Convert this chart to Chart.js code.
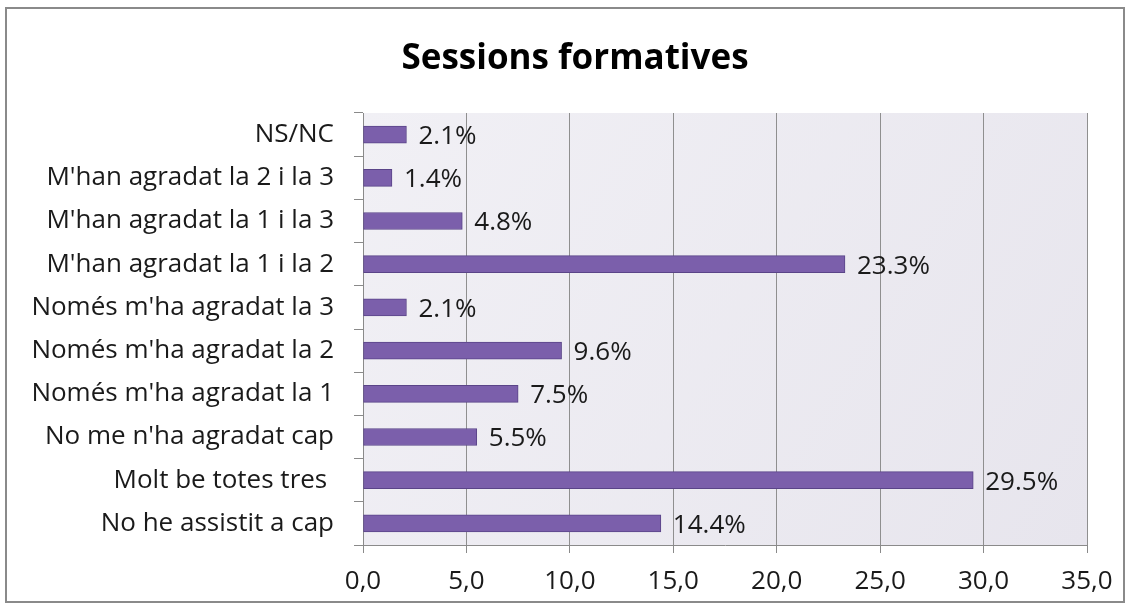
<!DOCTYPE html>
<html>
<head>
<meta charset="utf-8">
<script src="https://cdn.jsdelivr.net/npm/chart.js@4"></script>
<style>
html,body{margin:0;padding:0;background:#fff;}
#wrap{position:absolute;left:0;top:0;width:1132px;height:612px;}
#frame{position:absolute;left:5px;top:7px;width:1120px;height:596px;border:2px solid #8a8a8a;box-sizing:border-box;pointer-events:none;}
canvas{position:absolute;left:0;top:0;}
</style>
</head>
<body>
<div id="wrap">
<canvas id="c" width="1132" height="612"></canvas>
<div id="frame"></div>
</div>
<script>
const chartTitle = "Sessions formatives";
const categories = [
  "NS/NC",
  "M'han agradat la 2 i la 3",
  "M'han agradat la 1 i la 3",
  "M'han agradat la 1 i la 2",
  "Només m'ha agradat la 3",
  "Només m'ha agradat la 2",
  "Només m'ha agradat la 1",
  "No me n'ha agradat cap",
  "Molt be totes tres ",
  "No he assistit a cap"
];
const percentages = [2.1, 1.4, 4.8, 23.3, 2.1, 9.6, 7.5, 5.5, 29.5, 14.4];
const xTickValues = [0, 5, 10, 15, 20, 25, 30, 35];

const FONT = "'Open Sans', 'Noto Sans', sans-serif";

const plotBg = {
  id: 'plotBg',
  beforeDraw(chart) {
    const {ctx, chartArea: a} = chart;
    const g = ctx.createLinearGradient(a.left, a.top, a.right, a.bottom);
    g.addColorStop(0, '#f1f0f5');
    g.addColorStop(1, '#e7e5ed');
    ctx.save();
    ctx.fillStyle = g;
    ctx.fillRect(a.left, a.top, a.right - a.left, a.bottom - a.top);
    ctx.restore();
  }
};

const valueLabels = {
  id: 'valueLabels',
  afterDatasetsDraw(chart) {
    const {ctx} = chart;
    const meta = chart.getDatasetMeta(0);
    ctx.save();
    ctx.font = "26px " + FONT;
    ctx.fillStyle = '#1a1a1a';
    ctx.textAlign = 'left';
    ctx.textBaseline = 'middle';
    meta.data.forEach((bar, i) => {
      ctx.fillText(percentages[i].toFixed(1) + '%', bar.x + 12, bar.y + 2);
    });
    ctx.restore();
  }
};

new Chart(document.getElementById('c'), {
  type: 'bar',
  data: {
    labels: categories,
    datasets: [{
      data: percentages,
      yAxisID: 'y',
      backgroundColor: '#7b5fab',
      borderColor: '#5a4488',
      borderWidth: 1,
      borderSkipped: false,
      barThickness: 17
    }]
  },
  options: {
    indexAxis: 'y',
    responsive: false,
    animation: false,
    devicePixelRatio: 1,
    layout: { padding: { left: 18, right: 0, top: 10, bottom: 0 } },
    plugins: {
      legend: { display: false },
      tooltip: { enabled: false },
      title: {
        display: true,
        text: chartTitle,
        color: '#000',
        font: { family: FONT, size: 35, weight: 'bold' },
        padding: { top: 28, bottom: 33 }
      }
    },
    scales: {
      x: {
        min: 0, max: 35,
        afterBuildTicks(s) { s.ticks = xTickValues.map(v => ({value: v})); },
        afterFit(s) { s.height = 67; },
        border: { display: true, color: '#8a8a8a', width: 1 },
        grid: { display: true, color: '#8f8f8f', lineWidth: 1, drawTicks: true, tickLength: 8, tickColor: '#8a8a8a' },
        ticks: {
          color: '#1a1a1a',
          padding: 13,
          font: { family: FONT, size: 26 },
          callback: v => Number(v).toFixed(1).replace('.', ',')
        }
      },
      y: {
        position: 'left',
        afterFit(s) { s.width = 345; },
        border: { display: true, color: '#8a8a8a', width: 1 },
        grid: { display: true, offset: true, drawOnChartArea: false, drawTicks: true, tickLength: 9, color: '#8a8a8a' },
        ticks: {
          color: '#1a1a1a',
          padding: 20,
          font: { family: FONT, size: 26 }
        }
      },
      yRightSpace: {
        type: 'category',
        position: 'right',
        labels: categories,
        afterFit(s) { s.width = 45; },
        border: { display: false },
        grid: { display: false },
        ticks: { display: false }
      }
    }
  },
  plugins: [plotBg, valueLabels]
});
</script>
</body>
</html>
